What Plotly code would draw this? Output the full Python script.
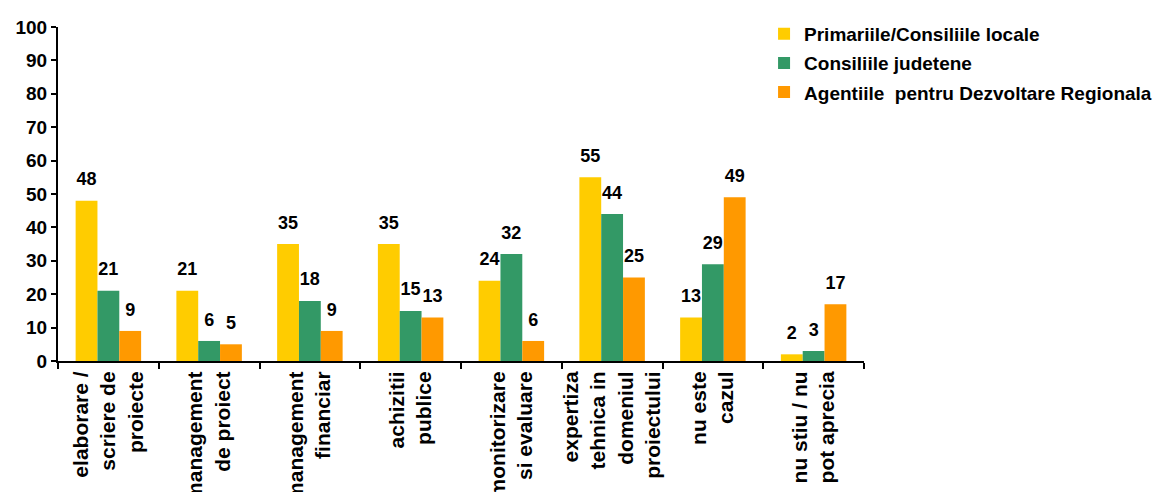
import plotly.graph_objects as go

categories = [
    "elaborare /<br>scriere de<br>proiecte",
    "management<br>de proiect",
    "management<br>financiar",
    "achizitii<br>publice",
    "monitorizare<br>si evaluare",
    "expertiza<br>tehnica in<br>domeniul<br>proiectului",
    "nu este<br>cazul",
    "nu stiu / nu<br>pot aprecia",
]
series_names = [
    "Primariile/Consiliile locale",
    "Consiliile judetene",
    "Agentiile  pentru Dezvoltare Regionala",
]
primarii = [48, 21, 35, 35, 24, 55, 13, 2]
judetene = [21, 6, 18, 15, 32, 44, 29, 3]
adr = [9, 5, 9, 13, 6, 25, 49, 17]
colors = ["#FFCC00", "#339966", "#FF9900"]

FONT = "Liberation Sans, Arial, sans-serif"

fig = go.Figure()
for i, (name, vals, col) in enumerate(zip(series_names, [primarii, judetene, adr], colors)):
    fig.add_trace(go.Bar(
        x=categories, y=vals, name=name, legendgroup=f"g{i}",
        marker=dict(color=col, line=dict(width=0)),
        text=[f"<span style='font-size:18px'>{v}</span><br><span style='font-size:8px'> </span>" for v in vals],
        textposition="outside", constraintext="none",
        textfont=dict(family=FONT, size=8, color="black", weight="bold"),
        cliponaxis=False,
    ))

fig.update_layout(
    width=1156, height=484,
    margin=dict(l=44, r=280, t=7, b=131),
    paper_bgcolor="white", plot_bgcolor="white",
    barmode="group", bargap=0.35, bargroupgap=0,
    font=dict(family=FONT, size=15, color="black"),
    showlegend=True,
    legend=dict(
        x=0.876, y=1.0364, xanchor="left", yanchor="top",
        font=dict(family=FONT, size=19, color="black", weight="bold"),
        itemwidth=30, tracegroupgap=1.5, bgcolor="rgba(0,0,0,0)",
    ),
)
fig.update_yaxes(
    range=[0, 100], dtick=10, showgrid=False,
    showline=True, linecolor="black", linewidth=2,
    ticks="outside", ticklen=5, tickcolor="black", tickwidth=1.5,
    tickfont=dict(family=FONT, size=19, weight="bold"),
    zeroline=False, fixedrange=True,
)
fig.update_xaxes(
    showline=True, linecolor="black", linewidth=2,
    ticks="outside", tickson="boundaries", ticklen=6, tickcolor="black", tickwidth=1.5,
    tickangle=-90, automargin=False,
    tickfont=dict(family=FONT, size=21, weight="bold"),
    showgrid=False,
)

fig.write_html("out.html")
